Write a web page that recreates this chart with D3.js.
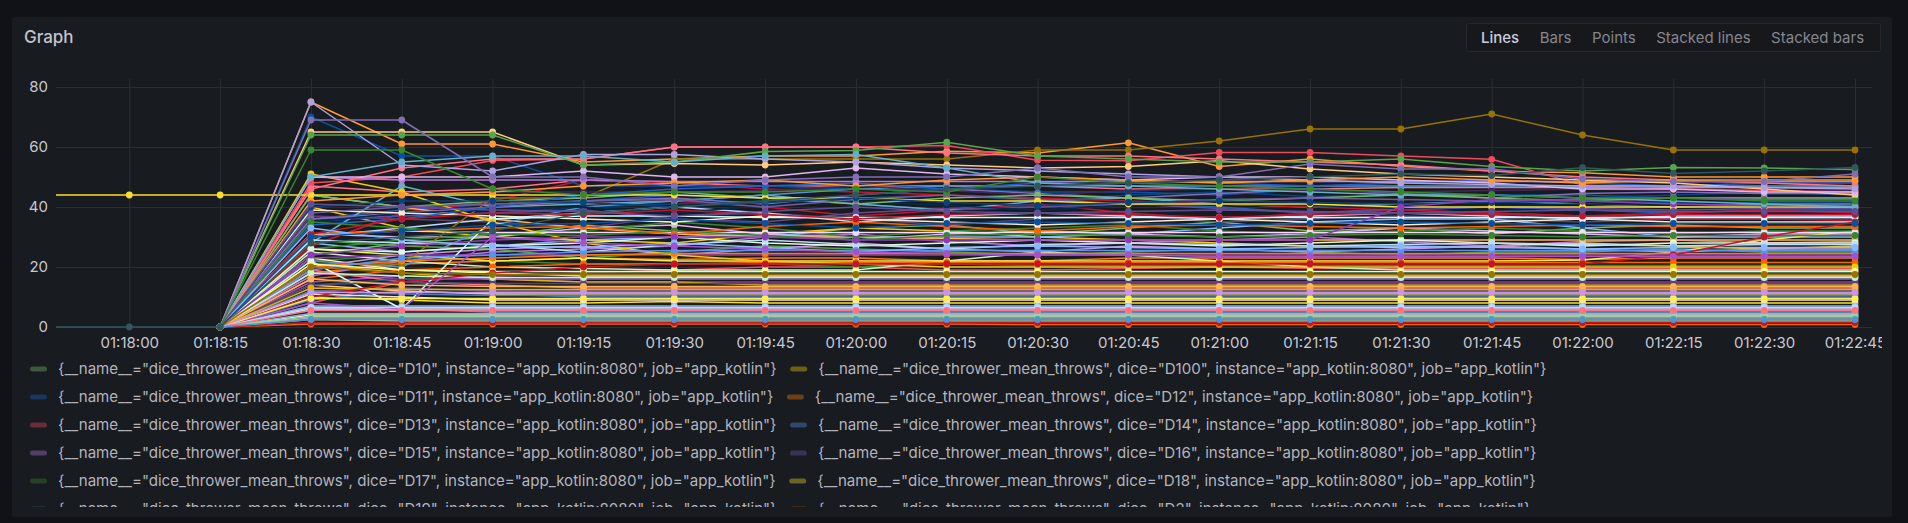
<!DOCTYPE html>
<html><head><meta charset="utf-8">
<script src="https://cdn.jsdelivr.net/npm/d3@7"></script>
<style>
html,body{margin:0;padding:0;background:#111217;overflow:hidden;}
svg{display:block;font-family:Inter,"Noto Sans",sans-serif;}
</style></head><body>
<svg id="chart" width="1908" height="523"></svg>
<script>
const N = null;
// sample times (01:17:45 is just outside the left edge of the plot)
const times = ["01:17:45","01:18:00","01:18:15","01:18:30","01:18:45","01:19:00","01:19:15","01:19:30","01:19:45","01:20:00","01:20:15","01:20:30","01:20:45","01:21:00","01:21:15","01:21:30","01:21:45","01:22:00","01:22:15","01:22:30","01:22:45"];
const xTickLabels = ["01:18:00","01:18:15","01:18:30","01:18:45","01:19:00","01:19:15","01:19:30","01:19:45","01:20:00","01:20:15","01:20:30","01:20:45","01:21:00","01:21:15","01:21:30","01:21:45","01:22:00","01:22:15","01:22:30","01:22:45"];
const yTicks = [0,20,40,60,80];
const viewModes = ["Lines","Bars","Points","Stacked lines","Stacked bars"];
const metricName = "dice_thrower_mean_throws";
const instanceLabel = "app_kotlin:8080";
const jobLabel = "app_kotlin";

const seriesNames = ["D10","D100","D11","D12","D13","D14","D15","D16","D17","D18","D19","D2","D20","D21","D22","D23","D24","D25","D26","D27","D28","D29","D3","D30","D31","D32","D33","D34","D35","D36","D37","D38","D39","D4","D40","D41","D42","D43","D44","D45","D46","D47","D48","D49","D5","D50","D51","D52","D53","D54","D55","D56","D57","D58","D59","D6","D60","D61","D62","D63","D64","D65","D66","D67","D68","D69","D7","D70","D71","D72","D73","D74","D75","D76","D77","D78","D79","D8","D80","D81","D82","D83","D84","D85","D86","D87","D88","D89","D9","D90","D91","D92","D93","D94","D95","D96","D97","D98","D99"];

const D10 = [N,N,0,24,28,30,34,32,30,33,34,31,33,35,32,33,31,33,34,33,33];
const D100 = [N,N,0,40,33,30,29,28,31,33,32,30,29,28,27,26.5,27,28,27,26,27];
const D11 = [N,N,0,36,39,41,42,44,43,41,39,40,41,40,38,39,40,39,38,39,39];
const D12 = [N,N,0,18,21,22,23,22.5,23,23,22,22,23,23,23,23,23,22.5,23,23,23];
const D13 = [N,N,0,8,15,17,18,19,20,20,19,19,19.5,20,19.5,19.5,19.5,19.5,19.5,19.5,19.5];
const D14 = [N,N,0,6,6,5,5,5,5,5,5,5,5,5,5,5,5,5,5,5,5];
const D15 = [N,N,0,17,22,25,26,27,30,31,28.5,27,28,29,30,28.5,27,28.5,29,28,28.5];
const D16 = [N,N,0,12,13,12,12,12,12,12,12,12,12,12,12,12,12,12,12,12,12];
const D17 = [N,N,0,22,24,22,21,21,21,20,21,20.5,20.5,20.5,20.5,20.5,20.5,20.5,20.5,20.5,20.5];
const D18 = [N,N,0,10,9,8,8,8.5,8,8,8,8,8,8,8,8,8,8,8,8,8];
const D19 = [N,N,0,9,12,11,10,10,10,10,10,10,10,10,10,10,10,10,10,10,10];
const D2 = [N,N,0,1,1,1,1,1,1,1,1,0.8,0.8,0.8,0.8,0.8,0.8,0.8,0.8,0.8,0.8];
const D20 = [N,N,0,27,38,42,41,42,40,37,39,41,38,36,38,39,38,37,38,39,38];
const D21 = [N,N,0,35,37,38,40,41,42,43,44,42,44,45,43.5,44,44,43,44,45,44];
const D22 = [N,N,0,18,16,16,15,15,15,15,15,15,15,15,15,15,15,15,15,15,15];
const D23 = [N,N,0,37,36,35,33,37,38,36,34,36,37,35,36,37,36,35,36,36,36];
const D24 = [N,N,0,25,22,20,19.5,19,19,19,22,25,24,22,20,19,19,19,19,19,19];
const D25 = [N,N,0,23,19,18,17,17,17,17,17,17,17,17,17,17,17,17,17,17,17];
const D26 = [N,N,0,28,25,27,29,30,31,30,30,30,31,33,35,36,36,33,30,30,30];
const D27 = [N,N,0,14,12,11,11,11,11,11,11,11,11,11,11,11,11,11,11,11,11];
const D28 = [N,N,0,47,45,46,49,48,47,47,47,47,46,46,46,46.5,46.5,46.5,46.5,46.5,46.5];
const D29 = [N,N,0,7,7,7,7,7,7,7,7,7,7,7,7,7,7,7,7,7,7];
const D3 = [N,N,0,31,30,30,33,34,31,29,31,32,31,30,31,33,32,31,30,31,31];
const D30 = [N,N,0,3,3,3,3,3,3,3,3,3,3,3,3,3,3,3,3,3,3];
const D31 = [N,N,0,29,27,26,23,25,27,26,25,24,25,26,25,24,25,25,26,25,25];
const D32 = [N,N,0,21,18,16,15,15,14,14,14,14,14,14,14,14,14,14,14,14,14];
const D33 = [N,N,0,28,47,40,41,42,44,41,39,42,43,41,40,41,42,41,40,41,41];
const D34 = [N,N,0,75,61,61,55,56,57,57,58.6,58,61.4,53.5,56,53.6,52,51.4,50,50,50];
const D35 = [N,N,0,27,38,42,49,48,46,45,44,43,42,41,40,39,38,37,36,36,35.5];
const D36 = [N,N,0,70,57,57,47,47,47,46,46,45,45,44,46,45,44,44,43,43,43];
const D37 = [N,N,0,15,17,16,16,16,16,16,16,16,16,16,16,16,16,16,16,16,16];
const D38 = [N,N,0,36,37,38,39,36,35,38,39.5,40,41,39.5,38,39.5,40,39.5,39,39.5,39.5];
const D39 = [N,N,0,2.5,2,2,2,2,2,2,2,2,2,2,2,2,2,2,2,2,2];
const D4 = [N,N,0,26,24,22,23,22,22,22,22,22,22,22,22,22,22,22.3,25,29,32];
const D40 = [N,N,0,30,33,36,38,40,38,35,37,38,37,36,37,38,37,36,37,37,37];
const D41 = [N,N,0,44,40,36,33,31,30,30,29.5,29,29,29,29,29,29,29,29,29,29];
const D42 = [N,N,0,19,15,14,13,13,13,13,13,13,13,13,13,13,13,13,13,13,13];
const D43 = [N,N,0,22,20,34,40,42,44,46,47,47,47,47,47,47,47,47,47,47,47];
const D44 = [N,N,0,20,24,26,27,24,26,28,26,25,27,26,25,26,27,26,25,26,26];
const D45 = [N,N,0,36,38,40,42,43,41,44,46,44.5,43,44.5,46,44.5,43,44.5,45,44.5,44.5];
const D46 = [N,N,0,26,29,31,32,35,33,30,32,33,34,32,31,32,33,32,31,32,32];
const D47 = [N,N,0,21,21,43,43,56,56,56,56,59,59,62,66,66,71,64,59,59,59];
const D48 = [N,N,0,14,16,17,18,18,18,18,18,18,18,18,18,18,18,18,18,18,18];
const D49 = [N,N,0,16,19,20,21,21,21.5,21.5,21.5,21.5,21.5,21.5,21.5,21.5,21.5,21.5,21.5,21.5,21.5];
const D5 = [N,N,0,1.5,1.5,1.5,1.5,1.5,1.5,1.5,1.5,1.5,1.5,1.5,1.5,1.5,1.5,1.5,1.5,1.5,1.5];
const D50 = [N,N,0,35,38,39,40,38,40.5,42,40.5,39,40.5,41,40.5,39.5,40.5,41,40.5,40,40.5];
const D51 = [N,N,0,23,24,24,24,24,24,24,24,24,24,24,24,24,24,24,24,24,24];
const D52 = [N,N,0,44,44,45,45,45,45.5,47,45.5,44,45.5,46,45.5,45,45.5,46,45.5,45.5,45.5];
const D53 = [N,N,0,26,25,27,28,30,28,27,28,29,28,27,28,29,28,27,28,28,28];
const D54 = [N,N,0,39,38,37,36,35,37,36,35,34,35,36,35,34,35,36,35,35,35];
const D55 = [N,N,0,22,6,36,37,37,36.5,36.5,36.5,36.5,36.5,36.5,36.5,36.5,36.5,36.5,36.5,36.5,36.5];
const D56 = [N,N,0,11,10,9,9,9,9,9,9,9,9,9,9,9,9,9,9,9,9];
const D57 = [N,N,0,4,4,4,4,4,4,4,4,4,4,4,4,4,4,4,4,4,4];
const D58 = [N,N,0,29,28,27.5,25,27.5,29,27.5,26,27.5,28,27.5,27,27.5,28,27.5,27,27.5,27.5];
const D59 = [N,N,0,31,32,31.5,31.5,31.5,31.5,31.5,31.5,31.5,31.5,31.5,31.5,31.5,31.5,31.5,31.5,31.5,31.5];
const D6 = [N,N,0,6,6,6,6,6,6,6,6,6,6,6,6,6,6,6,6,6,6];
const D60 = [N,N,0,44,40,42,43,45,43,41,43,44,43,42,43,44,43,42,43,43,43];
const D61 = [N,N,0,51,45,35,28,24,22,21,20,20,20,20,20,20,20,20,20,20,20];
const D62 = [N,N,0,34,36,40,44,46,47,48,46,48,49,48,47,48,49,48,47,48,48];
const D63 = [N,N,0,20,22,23,24,24.5,24.5,24.5,24.5,24.5,24.5,24.5,24.5,24.5,24.5,24.5,24.5,24.5,24.5];
const D64 = [N,N,0,48,50,55.5,56,60,60,60,60.5,55.6,55.4,58.2,58.2,57,55.9,47.3,46,45.5,45];
const D65 = [N,N,0,19,23,24,25,25.5,25.5,25.5,25.5,25.5,25.5,25.5,25.5,25.5,25.5,25.5,25.5,25.5,25.5];
const D66 = [N,N,0,50,49,49,49,48.5,48.5,48.5,48.5,48.5,48.5,48.5,48.5,48.5,48.5,48.5,48.5,48.5,48.5];
const D67 = [N,N,0,38,40,41,42,42.5,40,42.5,44,42.5,41,42.5,43,42.5,42,42.5,43,42.5,42.5];
const D68 = [N,N,0,35,33,31,30.5,32,30.5,29,30.5,31,30.5,30,30.5,31,30.5,30,30.5,30.5,30.5];
const D69 = [44,44,44,44,44,44,44,44,43,43,42,42,41,41,41,40,40,40,40,40,40];
const D7 = [N,N,0,12,11,10.5,10.5,10.5,10.5,10.5,10.5,10.5,10.5,10.5,10.5,10.5,10.5,10.5,10.5,10.5,10.5];
const D70 = [N,N,0,31,32,33,33.5,31,33.5,35,33.5,32,33.5,34,33.5,33,33.5,34,33.5,33.5,33.5];
const D71 = [N,N,0,31,36,38,37.5,39,37.5,36,37.5,38,37.5,36.5,37.5,38,37.5,37,37.5,37.5,37.5];
const D72 = [N,N,0,40,42,42,41.5,40,41.5,43,41.5,40.5,41.5,42,41.5,41,41.5,42,41.5,41.5,41.5];
const D73 = [N,N,0,24,27,29,30,30,30,29,29,29,29,29,29,40,42.5,42,41,40.5,40.5];
const D74 = [N,N,0,14,15,14.5,14.5,14.5,14.5,14.5,14.5,14.5,14.5,14.5,14.5,14.5,14.5,14.5,14.5,14.5,14.5];
const D75 = [N,N,0,18,17,16.5,16.5,16.5,16.5,16.5,16.5,16.5,16.5,16.5,16.5,16.5,16.5,16.5,16.5,16.5,16.5];
const D76 = [N,N,0,21,19,18.5,18.5,18.5,18.5,18.5,18.5,18.5,18.5,18.5,18.5,18.5,18.5,18.5,18.5,18.5,18.5];
const D77 = [N,N,0,33,29,27,26.5,28,26.5,25,26.5,27,26.5,26,26.5,27,26.5,26,26.5,26.5,26.5];
const D78 = [N,N,0,65,65,65,54,54.5,54,55,54,53,53.5,55.4,52.7,51,50,49,48,46,44];
const D79 = [N,N,0,46,53,56,56,60,60,60,58,57,57,56,55,54,52,50,49,48,47];
const D8 = [N,N,0,4.5,4.5,4.5,4.5,4.5,4.5,4.5,4.5,4.5,4.5,4.5,4.5,4.5,4.5,4.5,4.5,4.5,4.5];
const D80 = [N,N,0,50,50,50,52,50,50,53,51,50,49,50,50,49,48,46,46,45,45];
const D81 = [N,N,0,75,54,52,57.5,57.5,56,55,53,52,51,50,49,48,47.5,47,47,46.5,46];
const D82 = [N,N,0,64,64,64,54,55,58.5,58.8,61.6,57,56,55,55,56,53.5,52,53.2,53,52.5];
const D83 = [N,N,0,13,12.5,12.5,12.5,12.5,12.5,12.5,12.5,12.5,12.5,12.5,12.5,12.5,12.5,12.5,12.5,12.5,12.5];
const D84 = [N,N,0,50,55,57,57,55,57,57.5,53,48,47,46,45,44,44,43,42,41,40];
const D85 = [N,N,0,42,44,45,47,48,49,47,49,50,49,48,49,50,49,48,49,49,49];
const D86 = [N,N,0,10,15,18,20,21,21,21,21,21,21,21,21,21,21,21,24,30,35];
const D87 = [N,N,0,30,32,34,34.5,36,34.5,33,34.5,35,34.5,34,34.5,35,34.5,34,34.5,34.5,34.5];
const D88 = [N,N,0,8,6,30,28,27,26,25,24.5,24,24,23.5,23.5,23.5,23.5,23.5,23.5,23.5,23.5];
const D89 = [N,N,0,41,40,39,38.5,37,38.5,40,38.5,38,38.5,39,38.5,38,38.5,39,38.5,38.5,38.5];
const D9 = [N,N,0,3.5,3.5,3.5,3.5,3.5,3.5,3.5,3.5,3.5,3.5,3.5,3.5,3.5,3.5,3.5,3.5,3.5,3.5];
const D90 = [N,N,0,9.5,9.5,9.5,9.5,9.5,9.5,9.5,9.5,9.5,9.5,9.5,9.5,9.5,9.5,9.5,9.5,9.5,9.5];
const D91 = [N,N,0,6.5,6.5,6.5,6.5,6.5,6.5,6.5,6.5,6.5,6.5,6.5,6.5,6.5,6.5,6.5,6.5,6.5,6.5];
const D92 = [N,N,0,16,14,13.5,13.5,13.5,13.5,13.5,13.5,13.5,13.5,13.5,13.5,13.5,13.5,13.5,13.5,13.5,13.5];
const D93 = [N,N,0,5.5,5.5,5.5,5.5,5.5,5.5,5.5,5.5,5.5,5.5,5.5,5.5,5.5,5.5,5.5,5.5,5.5,5.5];
const D94 = [N,N,0,2.5,2.5,2.5,2.5,2.5,2.5,2.5,2.5,2.5,2.5,2.5,2.5,2.5,2.5,2.5,2.5,2.5,2.5];
const D95 = [N,N,0,11.5,11.5,11.5,11.5,11.5,11.5,11.5,11.5,11.5,11.5,11.5,11.5,11.5,11.5,11.5,11.5,11.5,11.5];
const D96 = [N,N,0,69,69,50,50,47,49,50,50,53,50,50,54.3,52.7,52.7,49.3,48.5,48.5,51];
const D97 = [N,N,0,59,59,46,44,45,45,46,45,50,48,47,46,45,44,43,43,42,42];
const D98 = [N,N,0,20,18,17.5,17.5,17.5,17.5,17.5,17.5,17.5,17.5,17.5,17.5,17.5,17.5,17.5,17.5,17.5,17.5];
const D99 = [0,0,0,28,30,32,38,40,42,44,46,47,48,49,50,51,50.5,53.1,51.2,52,53.2];

const seriesValues = [D10,D100,D11,D12,D13,D14,D15,D16,D17,D18,D19,D2,D20,D21,D22,D23,D24,D25,D26,D27,D28,D29,D3,D30,D31,D32,D33,D34,D35,D36,D37,D38,D39,D4,D40,D41,D42,D43,D44,D45,D46,D47,D48,D49,D5,D50,D51,D52,D53,D54,D55,D56,D57,D58,D59,D6,D60,D61,D62,D63,D64,D65,D66,D67,D68,D69,D7,D70,D71,D72,D73,D74,D75,D76,D77,D78,D79,D8,D80,D81,D82,D83,D84,D85,D86,D87,D88,D89,D9,D90,D91,D92,D93,D94,D95,D96,D97,D98,D99];

const palette = ["#73BF69","#F2CC0C","#1F60C4","#FF780A","#F2495C","#5794F2","#B877D9","#705DA0","#37872D","#FADE2A","#447EBC","#FA6400","#C4162A","#0A437C","#8F3BB8","#584477","#C8F2C2","#FFF899","#8AB8FF","#FFCB7D","#FF7383","#82B5D8","#DEB6F2","#AEA2E0","#56A64B","#E0B400","#64B0C8","#FF9830","#C4162A","#0A50A1","#A352CC","#614D93","#96D98D","#FFEE52","#C0D8FF","#FFB357","#FF7383","#5195CE","#CA95E5","#806EB7","#37872D","#967302","#2F575E","#FA6400","#C4162A","#052B51","#8F3BB8","#3F2B5B","#E0F9D7","#FCEACA","#CFFAFF","#F9E2D2","#FCE2DE","#BADFF4","#F9D9F9","#DEDAF7"];

// ---------- drawing ----------
const svg = d3.select("#chart");
const parse = d3.timeParse("%H:%M:%S");
const fmt = d3.timeFormat("%H:%M:%S");
const color = d3.scaleOrdinal().domain(seriesNames).range(seriesNames.map((d,i)=>palette[i % palette.length]));

const plot = {left:56, right:1872, top:79, bottom:327};
const x = d3.scaleTime()
  .domain([parse(xTickLabels[0]), parse(xTickLabels[xTickLabels.length-1])])
  .range([129.3, 1855]);
const y = d3.scaleLinear().domain([0, 80]).range([327, 87]);

// panel
svg.append("rect").attr("x",12).attr("y",17).attr("width",1880).attr("height",500)
  .attr("rx",2).attr("fill","#181b1f");

const defs = svg.append("defs");
defs.append("clipPath").attr("id","panelClip").append("rect")
  .attr("x",12).attr("y",17).attr("width",1870).attr("height",500);
defs.append("clipPath").attr("id","plotClip").append("rect")
  .attr("x",plot.left).attr("y",plot.top-6).attr("width",plot.right-plot.left).attr("height",plot.bottom-plot.top+16);
defs.append("clipPath").attr("id","legendClip").append("rect")
  .attr("x",12).attr("y",352).attr("width",1870).attr("height",155);

// title
svg.append("text").attr("x",24).attr("y",42.5).text("Graph")
  .attr("font-size",17).attr("font-weight",500).attr("fill","#c4c4cf");

// view mode toggle
const tg = svg.append("g");
tg.append("rect").attr("x",1466.5).attr("y",23.5).attr("width",414).attr("height",28)
  .attr("rx",2).attr("fill","#16181c").attr("stroke","#24272c");
let tx = 1481;
viewModes.forEach((m,i)=>{
  const t = tg.append("text").attr("x",tx).attr("y",43).text(m)
    .attr("font-size",15).attr("font-weight", i===0?500:400)
    .attr("fill", i===0 ? "#ccccdc" : "#86868f");
  tx += t.node().getComputedTextLength() + 20.5;
});

const content = svg.append("g").attr("clip-path","url(#panelClip)");

// grid + axes
const yAxis = d3.axisLeft(y).tickValues(yTicks).tickSize(-(plot.right-plot.left)).tickPadding(8);
const gy = content.append("g").attr("transform",`translate(${plot.left},0)`).call(yAxis);
gy.select(".domain").remove();
gy.selectAll(".tick line").attr("stroke","#2c2e33");
gy.selectAll(".tick text").attr("fill","#c8c8d2").attr("font-size",15).attr("font-family","Inter");

const xAxis = d3.axisBottom(x).tickValues(xTickLabels.map(parse)).tickFormat(fmt)
  .tickSize(-(plot.bottom-plot.top)).tickPadding(10.5);
const gx = content.append("g").attr("transform",`translate(0,${plot.bottom})`).call(xAxis);
gx.select(".domain").remove();
gx.selectAll(".tick line").attr("stroke","#2c2e33");
gx.selectAll(".tick text").attr("fill","#c8c8d2").attr("font-size",15).attr("font-family","Inter");

// series
const line = d3.line().defined(d=>d.v!==null).x(d=>x(d.t)).y(d=>y(d.v));
const plotG = content.append("g").attr("clip-path","url(#plotClip)");
seriesNames.forEach((name,i)=>{
  const pts = seriesValues[i].map((v,j)=>({t:parse(times[j]), v}));
  const g = plotG.append("g");
  g.append("path").datum(pts).attr("d",line).attr("fill","none")
    .attr("stroke",color(name)).attr("stroke-width",1.5).attr("stroke-linejoin","round");
  g.selectAll("circle").data(pts.filter(d=>d.v!==null)).join("circle")
    .attr("cx",d=>x(d.t)).attr("cy",d=>y(d.v)).attr("r",3.4).attr("fill",color(name));
});

// legend (scrollable list clipped to the panel)
const lg = content.append("g").attr("clip-path","url(#legendClip)");
let lx = 30, row = 0;
const maxX = 1880;
seriesNames.forEach(name=>{
  const label = `{__name__="${metricName}", dice="${name}", instance="${instanceLabel}", job="${jobLabel}"}`;
  const item = lg.append("g");
  const t = item.append("text").attr("font-size",15.1).attr("fill","#b4b4be").text(label);
  const tw = t.node().getComputedTextLength();
  const w = 28 + tw;
  if (lx + w > maxX) { lx = 30; row++; }
  const cy = 369 + row*28;
  item.append("rect").attr("x",lx).attr("y",cy-2.5).attr("width",17).attr("height",5).attr("rx",2.5)
    .attr("fill",color(name)).attr("fill-opacity",0.38);
  t.attr("x",lx+28).attr("y",cy+5.3);
  lx += w + 13.5;
});
</script>
</body></html>
